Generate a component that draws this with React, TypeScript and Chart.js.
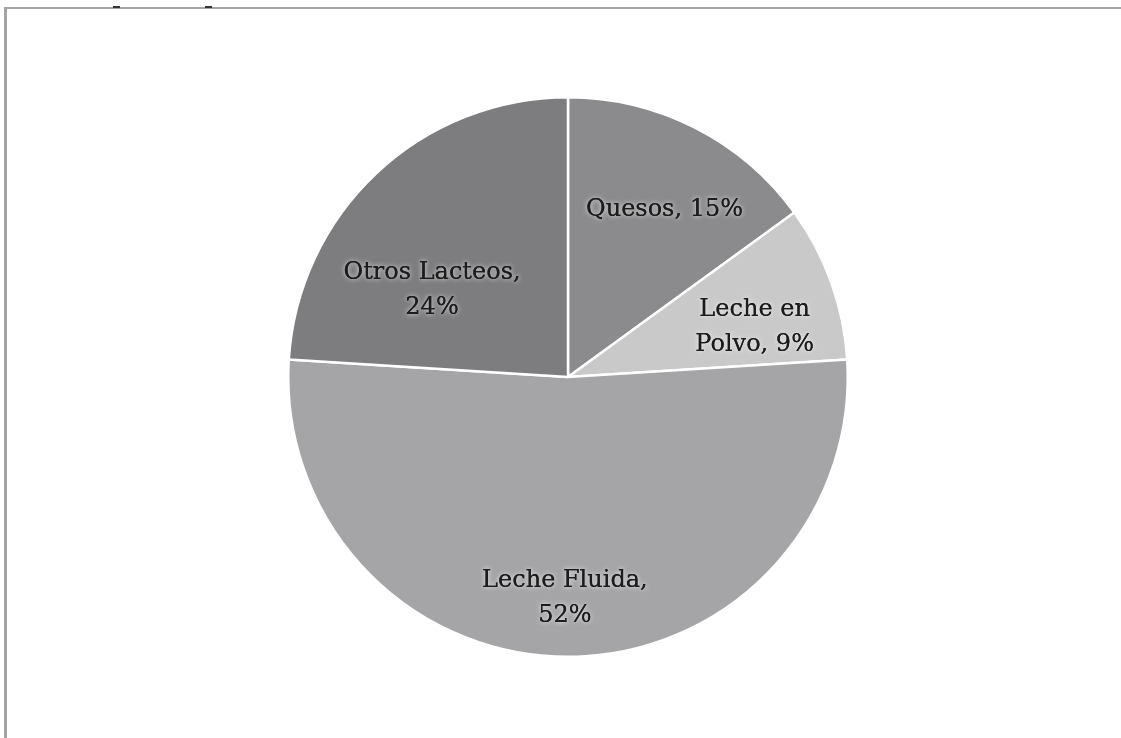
import React, { useEffect, useRef } from "react";
import { Chart, registerables } from "chart.js";

Chart.register(...registerables);

const categories: string[][] = [
  ["Quesos, 15%"],
  ["Leche en", "Polvo, 9%"],
  ["Leche Fluida,", "52%"],
  ["Otros Lacteos,", "24%"],
];
const sliceNames = ["Quesos", "Leche en Polvo", "Leche Fluida", "Otros Lacteos"];
const values = [15, 9, 52, 24];
const colors = ["#8b8b8e", "#c9c9c9", "#a5a5a8", "#7d7d80"];
// label placement (fraction of radius, angle nudge in degrees)
const labelRadius = [0.69, 0.69, 0.79, 0.577];
const labelNudge = [3, 5, 0.8, -14.2];

const labelPlugin = {
  id: "sliceLabels",
  afterDatasetsDraw(chart: any) {
    const ctx = chart.ctx;
    const meta = chart.getDatasetMeta(0);
    ctx.save();
    ctx.font = '24px "DejaVu Serif"';
    ctx.textAlign = "center";
    ctx.textBaseline = "middle";
    meta.data.forEach((arc: any, i: number) => {
      const { x, y, startAngle, endAngle, outerRadius } = arc.getProps(
        ["x", "y", "startAngle", "endAngle", "outerRadius"],
        true
      );
      const mid = (startAngle + endAngle) / 2 + (labelNudge[i] * Math.PI) / 180;
      const r = outerRadius * labelRadius[i];
      const cx = x + Math.cos(mid) * r;
      const cy = y + Math.sin(mid) * r;
      const lines = categories[i];
      const lh = 35;
      lines.forEach((ln, j) => {
        const ly = cy + (j - (lines.length - 1) / 2) * lh;
        ctx.shadowColor = "rgba(255,255,255,0.9)";
        ctx.shadowBlur = 5;
        ctx.fillStyle = "#1c1c1c";
        ctx.fillText(ln, cx, ly);
        ctx.shadowBlur = 0;
        ctx.fillText(ln, cx, ly);
      });
    });
    ctx.restore();
  },
};

export default function App() {
  const ref = useRef<HTMLCanvasElement>(null);
  useEffect(() => {
    if (!ref.current) return;
    const chart = new Chart(ref.current, {
      type: "pie",
      data: {
        labels: sliceNames,
        datasets: [
          {
            data: values,
            backgroundColor: colors,
            borderColor: "#ffffff",
            borderWidth: 2.5,
          },
        ],
      },
      options: {
        responsive: false,
        animation: false,
        layout: { padding: { left: 287, right: 272, top: 96, bottom: 80 } },
        plugins: {
          legend: { display: false },
          tooltip: { enabled: false },
        },
      },
      plugins: [labelPlugin],
    });
    return () => chart.destroy();
  }, []);
  return (
    <div
      style={{
        position: "absolute",
        left: 0,
        top: 0,
        width: 1121,
        height: 738,
        background: "#fff",
        overflow: "hidden",
      }}
    >
      <canvas ref={ref} width={1121} height={738} style={{ position: "absolute", left: 0, top: 0 }} />
      <div style={{ position: "absolute", left: 4, top: 7, width: 1117, height: 2, background: "#a4a4a4" }} />
      <div style={{ position: "absolute", left: 4, top: 7, width: 3, height: 731, background: "#a4a4a4" }} />
      <div style={{ position: "absolute", left: 113, top: 6, width: 7, height: 2, background: "#333" }} />
      <div style={{ position: "absolute", left: 205, top: 6, width: 7, height: 2, background: "#333" }} />
    </div>
  );
}
